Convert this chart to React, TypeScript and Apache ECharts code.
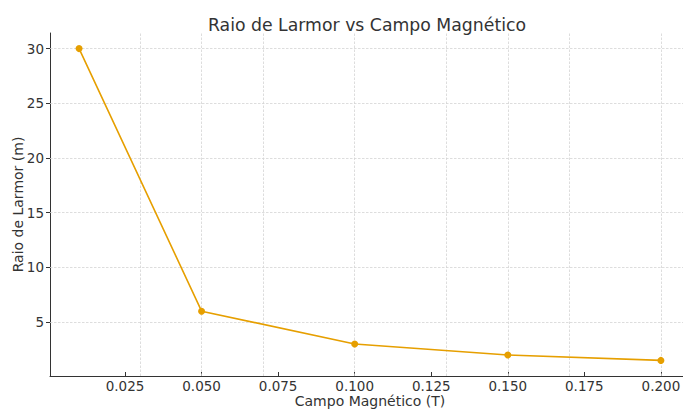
import React, { useEffect, useRef } from "react";
import * as echarts from "echarts";

const titleText = "Raio de Larmor vs Campo Magnético";
const xName = "Campo Magnético (T)";
const yName = "Raio de Larmor (m)";
const fieldValues = [0.01, 0.05, 0.1, 0.15, 0.2];
const radiusValues = [30, 6, 3, 2, 1.5];
const xTicks = [0.025, 0.05, 0.075, 0.1, 0.125, 0.15, 0.175, 0.2];
const yTicks = [5, 10, 15, 20, 25, 30];
const xRange = [0.0005, 0.2095];
const yRange = [0.075, 31.425];

const FONT = "DejaVu Sans";
const LINE_COLOR = "#E69F00";

export default function App() {
  const ref = useRef<HTMLDivElement>(null);
  useEffect(() => {
    document.body.style.margin = "0";
    const chart = echarts.init(ref.current!, null, { renderer: "svg" });
    const gridStyle = { color: "#d4d4d4", width: 0.8, type: [2.5, 1.5] as any };
    const markData: any[] = [
      ...xTicks.map((v) => ({ xAxis: v })),
      ...yTicks.map((v) => ({ yAxis: v })),
    ];
    chart.setOption({
      animation: false,
      backgroundColor: "#ffffff",
      textStyle: { fontFamily: FONT },
      title: {
        text: titleText,
        left: 362,
        top: 11,
        textAlign: "center",
        textStyle: { fontFamily: FONT, fontSize: 17.3, fontWeight: "normal", color: "#333333" },
      },
      grid: {
        left: 50,
        top: 33,
        width: 640,
        height: 343,
        containLabel: false,
        outerBoundsMode: "none",
      },
      xAxis: {
        type: "value",
        min: xRange[0],
        max: xRange[1],
        name: xName,
        nameLocation: "middle",
        nameGap: 18,
        nameMoveOverlap: false,
        nameTextStyle: { fontFamily: FONT, fontSize: 14, color: "#333333" },
        axisLine: { show: true, lineStyle: { color: "#333333", width: 1 } },
        axisTick: { show: true, inside: true, length: 4, customValues: xTicks, lineStyle: { color: "#333333" } },
        axisLabel: {
          customValues: xTicks,
          fontFamily: FONT,
          fontSize: 13.5,
          color: "#333333",
          margin: 3,
          formatter: (v: number) => v.toFixed(3),
        },
        splitLine: { show: false },
      },
      yAxis: {
        type: "value",
        min: yRange[0],
        max: yRange[1],
        name: yName,
        nameLocation: "middle",
        nameRotate: 90,
        nameGap: 25,
        nameMoveOverlap: false,
        nameTextStyle: { fontFamily: FONT, fontSize: 14, color: "#333333" },
        axisLine: { show: true, lineStyle: { color: "#333333", width: 1 } },
        axisTick: { show: true, length: 4, customValues: yTicks, lineStyle: { color: "#333333" } },
        axisLabel: {
          customValues: yTicks,
          fontFamily: FONT,
          fontSize: 13.5,
          color: "#333333",
          margin: 6,
        },
        splitLine: { show: false },
      },
      series: [
        {
          type: "line",
          data: fieldValues.map((x, i) => [x, radiusValues[i]]),
          symbol: "circle",
          symbolSize: 7,
          showSymbol: true,
          lineStyle: { color: LINE_COLOR, width: 1.6 },
          itemStyle: { color: LINE_COLOR },
          z: 3,
          markLine: {
            silent: true,
            symbol: "none",
            label: { show: false },
            lineStyle: gridStyle,
            emphasis: { disabled: true },
            data: markData,
            z: 1,
          },
        },
      ],
    });
    return () => chart.dispose();
  }, []);
  return (
    <div
      ref={ref}
      style={{ position: "fixed", left: 0, top: 0, width: 683, height: 410 }}
    />
  );
}
